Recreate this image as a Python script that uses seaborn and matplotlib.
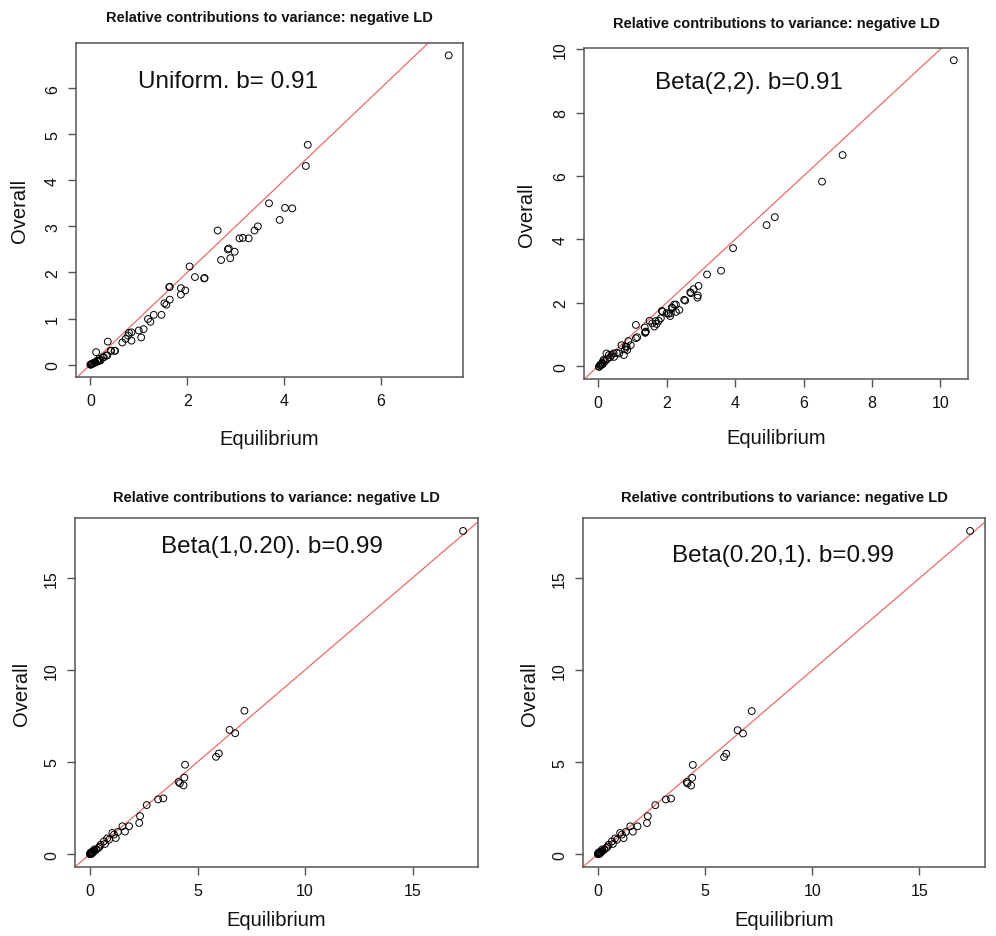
import matplotlib
matplotlib.use("Agg")
import matplotlib.pyplot as plt
from matplotlib.ticker import MultipleLocator
import seaborn as sns
import pandas as pd

# ---------------- data ----------------
title = "Relative contributions to variance: negative LD"
panel_labels = ["Uniform. b= 0.91", "Beta(2,2). b=0.91",
                "Beta(1,0.20). b=0.99", "Beta(0.20,1). b=0.99"]

eq1 = [7.40, 4.49, 4.45, 3.69, 4.02, 4.17, 3.91, 2.63, 3.46, 3.39,
       3.08, 3.15, 3.27, 2.84, 2.86, 2.98, 2.70, 2.89, 2.05, 2.16,
       2.35, 2.36, 1.63, 1.64, 1.87, 1.96, 1.87, 1.64, 1.53, 1.57,
       1.47, 1.31, 1.19, 1.24, 1.10, 1.05, 1.00, 0.85, 0.80, 0.78,
       0.73, 0.66, 0.85, 0.36, 0.50, 0.43, 0.33, 0.26, 0.12, 0.42,
       0.51, 0.28, 0.35, 0.18, 0.21, 0.11, 0.04, 0.00, 0.02, 0.06,
       0.09, 0.14, 0.16, 0.19, 0.08, 0.03, 0.01]
ov1 = [6.71, 4.77, 4.31, 3.50, 3.40, 3.39, 3.14, 2.91, 3.00, 2.91,
       2.74, 2.75, 2.74, 2.50, 2.52, 2.45, 2.27, 2.31, 2.13, 1.90,
       1.87, 1.88, 1.68, 1.69, 1.66, 1.61, 1.52, 1.41, 1.33, 1.30,
       1.08, 1.08, 0.99, 0.93, 0.77, 0.59, 0.74, 0.70, 0.69, 0.63,
       0.56, 0.48, 0.52, 0.50, 0.30, 0.30, 0.20, 0.16, 0.27, 0.30,
       0.30, 0.16, 0.20, 0.12, 0.09, 0.05, 0.02, 0.00, 0.01, 0.03,
       0.05, 0.08, 0.07, 0.09, 0.04, 0.01, 0.00]

eq2 = [10.39, 7.14, 6.54, 5.16, 4.92, 3.94, 3.59, 3.18, 2.93, 2.79,
       2.69, 2.91, 2.90, 2.54, 2.27, 2.15, 2.27, 1.86, 2.05, 2.10,
       2.00, 1.77, 1.71, 1.50, 1.37, 1.38, 1.10, 1.14, 0.88, 0.83,
       0.78, 0.68, 0.54, 0.39, 0.24, 0.15, 0.10, 0.03, 0.02, 0.17,
       0.31, 0.46, 0.61, 0.75, 0.85, 0.80, 0.95, 1.10, 1.39, 1.36,
       1.58, 1.68, 1.83, 1.64, 1.88, 2.12, 2.17, 2.22, 2.37, 2.51,
       2.71, 0.05, 0.08, 0.12, 0.20, 0.26, 0.07, 0.13, 0.35, 0.45]
ov2 = [9.65, 6.66, 5.82, 4.70, 4.45, 3.72, 3.01, 2.89, 2.53, 2.43,
       2.33, 2.23, 2.16, 2.07, 1.94, 1.85, 1.71, 1.74, 1.65, 1.58,
       1.67, 1.43, 1.33, 1.43, 1.05, 1.07, 1.30, 0.91, 0.79, 0.61,
       0.53, 0.66, 0.42, 0.35, 0.40, 0.19, 0.08, -0.02, -0.02, 0.19,
       0.35, 0.29, 0.40, 0.35, 0.51, 0.62, 0.66, 0.88, 1.09, 1.22,
       1.35, 1.42, 1.51, 1.25, 1.72, 1.67, 1.83, 1.94, 1.77, 2.09,
       2.30, 0.03, 0.05, 0.10, 0.15, 0.22, 0.02, 0.06, 0.28, 0.40]

eq3 = [17.34, 7.18, 6.49, 6.75, 5.99, 5.86, 4.42, 4.39, 4.12, 4.18,
       4.35, 3.41, 3.17, 2.64, 2.33, 2.29, 1.82, 1.51, 1.63, 1.20,
       1.12, 1.04, 0.89, 0.65, 0.50, 0.39, 0.30, 0.22, 0.15, 0.10,
       0.06, 0.03, 0.01, 0.00, 0.05, 0.12, 0.08, 0.20, 0.45, 0.70,
       0.80, 1.30, 0.02, 0.04, 0.18]
ov3 = [17.54, 7.78, 6.74, 6.56, 5.46, 5.28, 4.85, 4.15, 3.92, 3.84,
       3.73, 3.02, 2.97, 2.66, 2.06, 1.69, 1.51, 1.51, 1.22, 0.87,
       1.06, 1.15, 0.78, 0.69, 0.51, 0.33, 0.25, 0.18, 0.12, 0.08,
       0.05, 0.02, 0.00, 0.00, 0.10, 0.06, 0.02, 0.25, 0.40, 0.55,
       0.85, 1.20, 0.05, 0.00, 0.15]

eq4 = [17.37, 7.18, 6.52, 6.77, 5.99, 5.89, 4.43, 4.40, 4.15, 4.18,
       4.35, 3.41, 3.17, 2.68, 2.33, 2.29, 1.85, 1.51, 1.63, 1.20,
       1.12, 1.04, 0.89, 0.65, 0.50, 0.39, 0.30, 0.22, 0.15, 0.10,
       0.06, 0.03, 0.01, 0.00, 0.05, 0.12, 0.08, 0.20, 0.45, 0.70,
       0.80, 1.30, 0.02, 0.04, 0.18]
ov4 = [17.58, 7.78, 6.74, 6.56, 5.46, 5.28, 4.85, 4.15, 3.92, 3.84,
       3.73, 3.02, 2.97, 2.66, 2.06, 1.69, 1.51, 1.51, 1.22, 0.87,
       1.06, 1.15, 0.78, 0.69, 0.51, 0.33, 0.25, 0.18, 0.12, 0.08,
       0.05, 0.02, 0.00, 0.00, 0.10, 0.06, 0.02, 0.25, 0.40, 0.55,
       0.85, 1.20, 0.05, 0.00, 0.15]

tick_steps = [(2, 1), (2, 2), (5, 5), (5, 5)]

# ---------------- style ----------------
sns.set_style("ticks")
plt.rcParams["font.family"] = ["Liberation Sans", "DejaVu Sans"]
frame_col = "#555555"

W, H = 996, 937
fig = plt.figure(figsize=(W / 100, H / 100), dpi=100)

# axes boxes in pixels: left, top, right, bottom
boxes = [(76, 44, 463, 378), (584, 49, 968, 380),
         (75, 519, 478, 868), (583, 519, 985, 868)]
title_pads = [15.5, 15.0, 12.0, 12.0]
ylab_x = [-0.121, -0.125, -0.109, -0.109]
xlab_y = [-0.156, -0.148, -0.124, -0.124]
text_pos = [(0.393, 0.886), (0.43, 0.897), (0.489, 0.92), (0.4975, 0.894)]

datasets = [(eq1, ov1), (eq2, ov2), (eq3, ov3), (eq4, ov4)]

for i, ((eq, ov), box) in enumerate(zip(datasets, boxes)):
    l, t, r, b = box
    ax = fig.add_axes([l / W, 1 - b / H, (r - l) / W, (b - t) / H])
    df = pd.DataFrame({"Equilibrium": eq, "Overall": ov})
    sns.scatterplot(data=df, x="Equilibrium", y="Overall", ax=ax,
                    color="black", facecolor="none", edgecolor="black",
                    s=24, linewidth=0.7, marker="o", zorder=3)
    ax.margins(0.04)
    ax.axline((0, 0), slope=1, color="#f26a6a", lw=0.9, zorder=2)
    xs, ys = tick_steps[i]
    ax.xaxis.set_major_locator(MultipleLocator(xs))
    ax.yaxis.set_major_locator(MultipleLocator(ys))
    for sp in ax.spines.values():
        sp.set_color(frame_col)
        sp.set_linewidth(1.1)
    ax.tick_params(axis="both", colors=frame_col, labelcolor="#111111",
                   length=5.5, width=1.0, labelsize=11.5, pad=6,
                   direction="out")
    ax.tick_params(axis="y", labelrotation=90)
    for lab in ax.get_yticklabels():
        lab.set_va("center")
    ax.set_xlabel("Equilibrium", fontsize=14.5, color="#111111")
    ax.set_ylabel("Overall", fontsize=14.5, color="#111111")
    ax.xaxis.set_label_coords(0.5, xlab_y[i])
    ax.yaxis.set_label_coords(ylab_x[i], 0.5)
    ax.set_title(title, fontsize=10.5, fontweight="bold", pad=title_pads[i],
                 color="#111111")
    ax.text(text_pos[i][0], text_pos[i][1], panel_labels[i],
            transform=ax.transAxes, ha="center", va="center",
            fontsize=17.5, color="#111111")
    ax.grid(False)

fig.savefig("out.png", dpi=100)
